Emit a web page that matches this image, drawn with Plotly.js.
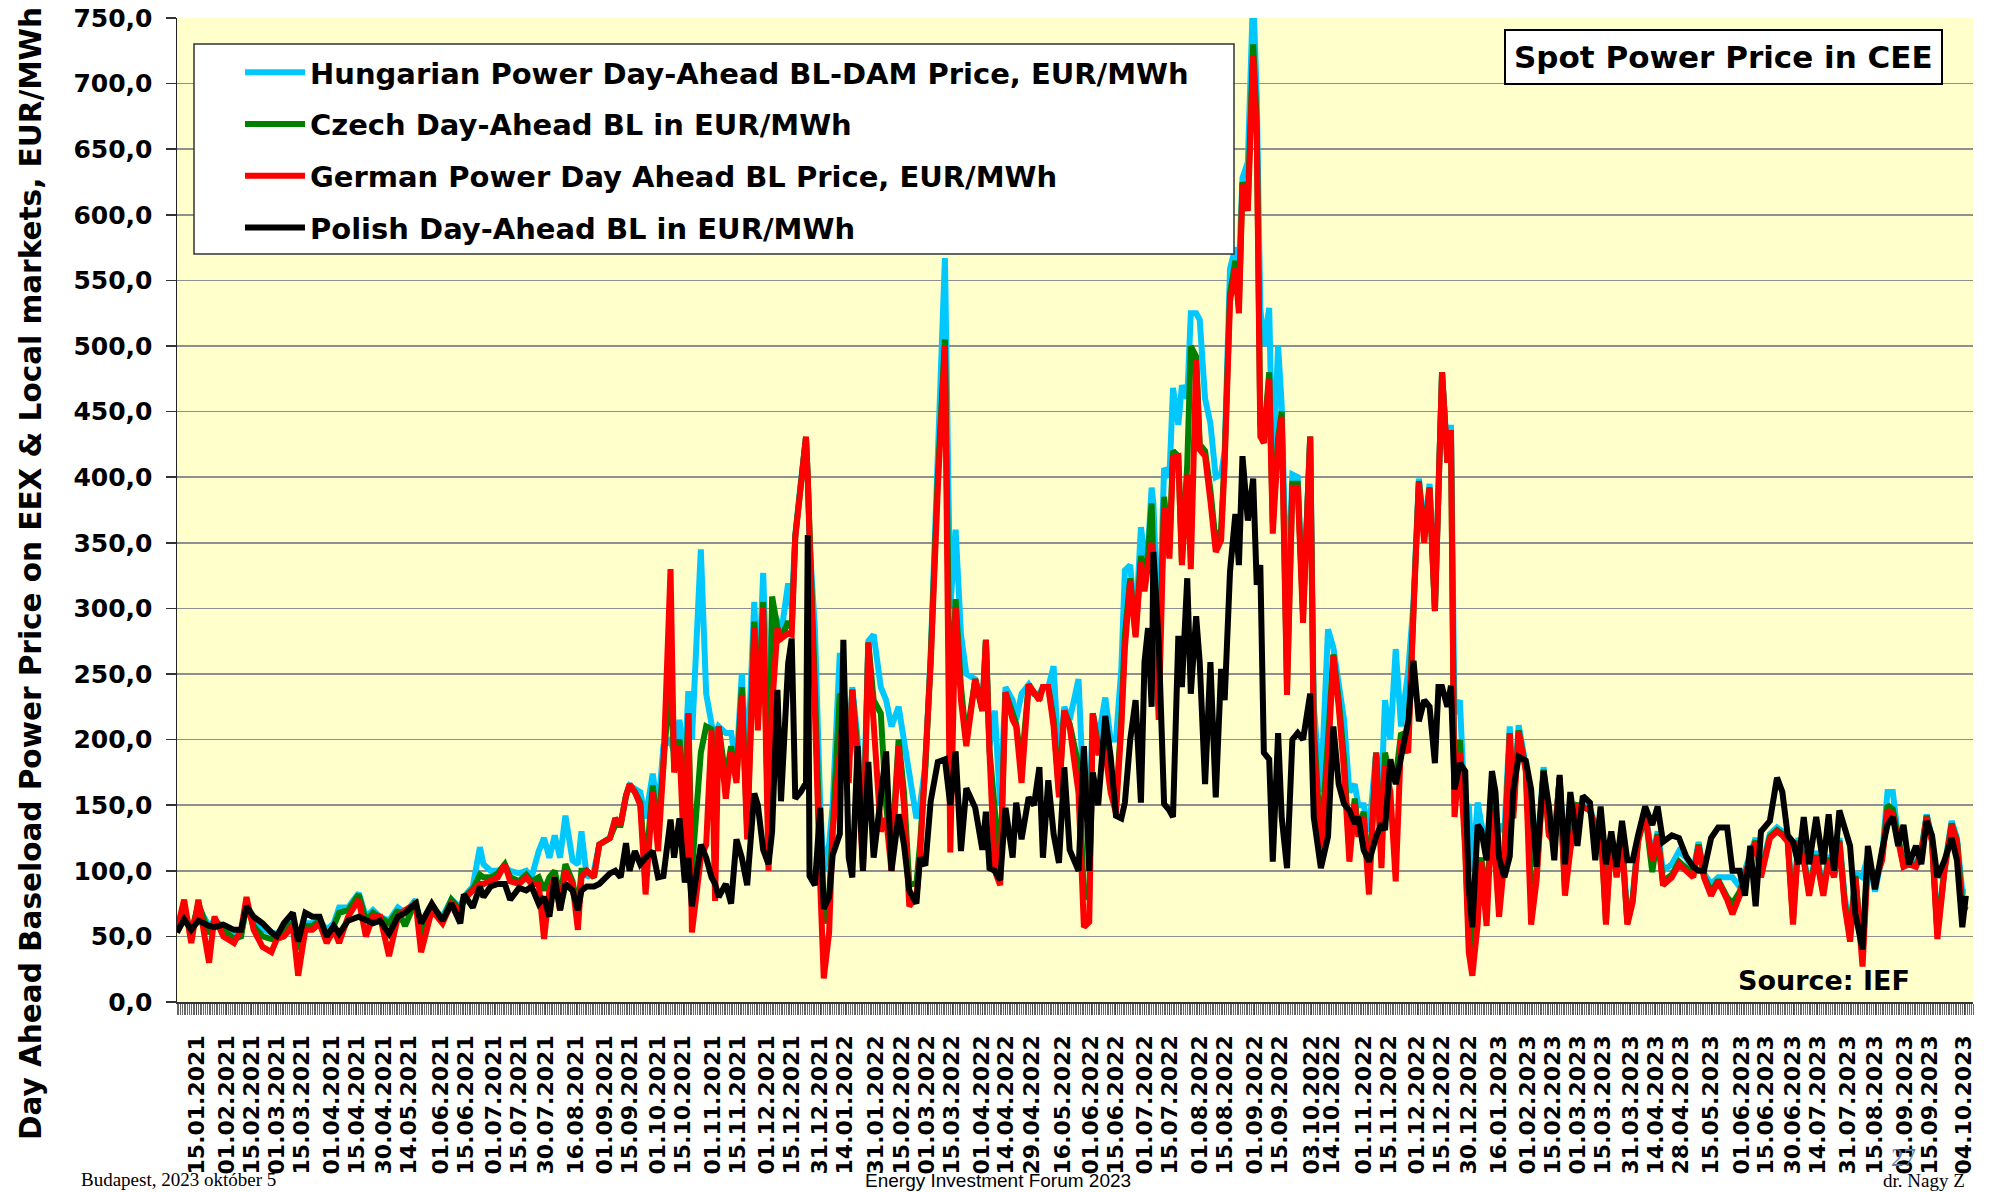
<!DOCTYPE html>
<html>
<head>
<meta charset="utf-8">
<script src="https://cdn.plot.ly/plotly-3.0.1.min.js"></script>
<style>
html,body{margin:0;padding:0;background:#fff;}
#chart{width:1989px;height:1192px;}
</style>
</head>
<body>
<div id="chart"></div>
<script>
// ---- data (approximate) ----
var dates = [
"2021-01-04","2021-01-08","2021-01-12","2021-01-16","2021-01-22","2021-01-25","2021-01-30","2021-02-05","2021-02-09","2021-02-12",
"2021-02-16","2021-02-21","2021-02-26","2021-03-01","2021-03-05","2021-03-10","2021-03-13","2021-03-17","2021-03-21","2021-03-25",
"2021-03-29","2021-04-02","2021-04-05","2021-04-10","2021-04-16","2021-04-20","2021-04-24","2021-04-28","2021-05-03","2021-05-08",
"2021-05-12","2021-05-18","2021-05-21","2021-05-27","2021-06-02","2021-06-07","2021-06-12","2021-06-14","2021-06-19","2021-06-23",
"2021-06-25","2021-06-29","2021-07-03","2021-07-07","2021-07-10","2021-07-15","2021-07-19","2021-07-22","2021-07-26","2021-07-29",
"2021-08-01","2021-08-04","2021-08-07","2021-08-10","2021-08-14","2021-08-17","2021-08-19","2021-08-22","2021-08-26","2021-08-29",
"2021-09-04","2021-09-07","2021-09-10","2021-09-13","2021-09-15","2021-09-18","2021-09-21","2021-09-24","2021-09-28","2021-10-01",
"2021-10-04","2021-10-08","2021-10-10","2021-10-13","2021-10-16","2021-10-18","2021-10-20","2021-10-25","2021-10-28","2021-10-31",
"2021-11-02","2021-11-04","2021-11-08","2021-11-11","2021-11-14","2021-11-17","2021-11-20","2021-11-24","2021-11-26","2021-11-29",
"2021-12-02","2021-12-04","2021-12-07","2021-12-09","2021-12-13","2021-12-15","2021-12-17","2021-12-20","2021-12-23","2021-12-24",
"2021-12-25","2021-12-28","2021-12-31","2022-01-02","2022-01-05","2022-01-07","2022-01-11","2022-01-13","2022-01-16","2022-01-18",
"2022-01-21","2022-01-24","2022-01-27","2022-01-30","2022-02-03","2022-02-06","2022-02-09","2022-02-13","2022-02-16","2022-02-19",
"2022-02-23","2022-02-25","2022-02-28","2022-03-03","2022-03-07","2022-03-11","2022-03-14","2022-03-17","2022-03-20","2022-03-23",
"2022-03-28","2022-04-01","2022-04-03","2022-04-05","2022-04-08","2022-04-11","2022-04-14","2022-04-18","2022-04-20","2022-04-23",
"2022-04-27","2022-04-30","2022-05-03","2022-05-05","2022-05-08","2022-05-11","2022-05-14","2022-05-17","2022-05-20","2022-05-25",
"2022-05-28","2022-05-31","2022-06-02","2022-06-05","2022-06-09","2022-06-12","2022-06-15","2022-06-18","2022-06-20","2022-06-23",
"2022-06-26","2022-06-29","2022-07-01","2022-07-03","2022-07-05","2022-07-06","2022-07-09","2022-07-12","2022-07-15","2022-07-17",
"2022-07-20","2022-07-22","2022-07-25","2022-07-27","2022-07-30","2022-08-01","2022-08-04","2022-08-07","2022-08-10","2022-08-13",
"2022-08-15","2022-08-18","2022-08-21","2022-08-23","2022-08-25","2022-08-28","2022-08-31","2022-09-02","2022-09-04","2022-09-06",
"2022-09-09","2022-09-11","2022-09-14","2022-09-16","2022-09-19","2022-09-22","2022-09-25","2022-09-28","2022-10-02","2022-10-04",
"2022-10-08","2022-10-12","2022-10-15","2022-10-18","2022-10-21","2022-10-24","2022-10-27","2022-10-29","2022-11-01","2022-11-04",
"2022-11-08","2022-11-11","2022-11-13","2022-11-16","2022-11-19","2022-11-22","2022-11-26","2022-11-29","2022-12-02","2022-12-05",
"2022-12-08","2022-12-11","2022-12-13","2022-12-15","2022-12-18","2022-12-20","2022-12-22","2022-12-25","2022-12-28","2022-12-30",
"2023-01-01","2023-01-04","2023-01-06","2023-01-09","2023-01-12","2023-01-14","2023-01-16","2023-01-19","2023-01-22","2023-01-24",
"2023-01-27","2023-01-31","2023-02-03","2023-02-06","2023-02-10","2023-02-13","2023-02-16","2023-02-19","2023-02-22","2023-02-25",
"2023-03-01","2023-03-04","2023-03-08","2023-03-11","2023-03-14","2023-03-17","2023-03-20","2023-03-23","2023-03-26","2023-03-29",
"2023-04-01","2023-04-04","2023-04-08","2023-04-12","2023-04-15","2023-04-18","2023-04-23","2023-04-27","2023-05-01","2023-05-05",
"2023-05-08","2023-05-11","2023-05-15","2023-05-19","2023-05-24","2023-05-27","2023-05-31","2023-06-03","2023-06-06","2023-06-09",
"2023-06-12","2023-06-17","2023-06-21","2023-06-24","2023-06-27","2023-06-30","2023-07-03","2023-07-06","2023-07-09","2023-07-13",
"2023-07-17","2023-07-20","2023-07-23","2023-07-26","2023-07-29","2023-08-01","2023-08-04","2023-08-08","2023-08-11","2023-08-15",
"2023-08-19","2023-08-22","2023-08-25","2023-08-28","2023-08-31","2023-09-03","2023-09-07","2023-09-10","2023-09-13","2023-09-16",
"2023-09-19","2023-09-23","2023-09-27","2023-09-30","2023-10-03","2023-10-05"
];

var hungarian = [
60,68,55,72,58,62,58,50,52,72,
60,55,53,52,55,62,45,60,60,62,
55,60,72,72,83,65,70,65,62,72,
68,78,55,72,65,78,72,80,88,118,
105,100,100,103,100,98,100,95,115,125,
110,127,110,142,108,105,130,95,100,120,
125,140,135,158,165,162,160,140,174,145,
195,200,190,215,180,237,200,345,235,212,
200,210,205,205,180,250,175,305,230,327,
200,300,290,280,319,300,356,395,430,400,
350,285,150,100,120,150,266,240,190,240,
200,130,275,280,240,230,210,225,200,171,
140,150,180,265,430,567,300,360,280,250,
246,225,276,195,222,150,240,230,215,235,
242,235,235,240,240,256,180,225,215,246,
150,140,220,200,232,200,200,254,329,333,
285,362,340,345,392,380,270,407,400,468,
440,470,460,525,525,520,460,441,400,402,
420,559,575,560,628,640,770,690,529,500,
529,400,500,455,300,402,400,300,431,225,
160,284,270,240,215,160,166,150,150,130,
190,160,230,200,269,210,252,305,399,360,
395,300,400,480,415,440,220,230,140,151,
100,152,136,120,150,120,135,130,210,150,
211,180,140,110,179,135,125,171,100,125,
150,150,148,135,138,70,128,98,125,65,
80,125,145,110,130,100,105,115,110,100,
122,98,90,95,95,95,88,100,112,125,
100,128,133,130,125,70,125,112,85,115,
85,112,98,125,80,55,98,95,112,84,
112,160,160,125,106,108,106,116,143,125,
55,103,138,125,84,84
];

var czech = [
58,70,52,75,52,62,55,48,50,75,
58,50,48,50,55,60,40,58,58,62,
50,58,68,70,82,62,68,65,60,70,
58,77,50,72,62,78,70,80,86,97,
95,95,98,105,95,92,97,92,95,85,
95,100,80,105,92,70,100,100,95,120,
125,135,135,157,165,160,152,100,165,130,
188,250,180,200,150,220,100,190,210,208,
150,210,170,195,170,240,130,290,215,305,
120,309,285,277,290,285,355,392,430,400,
350,240,110,60,80,140,235,230,180,238,
190,110,274,230,220,150,110,200,160,90,
90,120,178,262,400,505,200,307,240,200,
246,222,276,192,150,100,236,220,212,180,
242,235,232,240,240,215,160,222,212,180,
80,80,220,195,200,165,150,215,280,323,
280,340,320,343,380,330,240,385,345,420,
416,335,410,500,492,425,420,390,350,360,
415,540,565,530,625,610,730,670,440,430,
480,365,430,450,240,395,395,295,431,210,
120,200,265,230,185,115,155,130,145,90,
190,110,190,170,170,205,200,300,397,355,
392,298,395,480,411,436,150,200,120,50,
30,100,110,75,148,110,80,115,205,145,
207,178,90,95,177,128,122,171,85,118,
150,149,146,133,136,62,127,96,123,60,
78,123,144,99,128,92,97,107,102,97,
120,96,84,93,80,75,84,98,110,123,
97,126,131,128,123,62,123,110,83,112,
83,110,96,123,76,50,96,35,110,90,
110,150,147,123,104,106,104,114,142,123,
52,101,136,123,75,80
];

var german = [
55,78,45,78,30,65,50,45,55,80,
55,42,38,48,50,58,20,55,55,60,
45,55,45,65,78,50,65,65,35,65,
70,75,38,70,60,75,70,78,85,90,
90,92,95,105,92,90,95,90,90,48,
85,95,70,100,90,55,95,100,95,120,
125,140,135,157,166,160,150,82,160,115,
180,330,175,195,100,220,53,110,120,207,
77,210,155,191,167,234,124,285,207,301,
100,225,285,277,281,280,354,392,431,400,
350,236,90,18,53,130,195,220,167,238,
180,100,274,218,130,140,100,195,150,73,
80,110,175,258,392,500,114,301,230,195,
246,222,276,190,100,89,236,215,210,167,
242,235,230,240,240,210,156,222,210,159,
57,61,220,190,190,160,144,210,270,321,
278,335,313,333,350,318,215,377,338,415,
416,333,402,330,490,421,416,382,343,352,
411,534,559,525,623,603,721,662,431,426,
475,357,426,446,234,392,392,289,431,200,
111,185,264,225,176,107,151,126,141,82,
190,102,180,160,92,200,190,298,396,350,
392,298,392,480,411,436,141,190,115,38,
20,59,107,58,146,95,65,108,205,140,
206,176,59,92,176,127,122,171,81,116,
149,149,146,133,135,59,127,95,122,59,
76,122,143,108,127,89,95,105,100,95,
119,95,81,92,78,67,81,97,108,122,
95,125,130,127,122,59,122,108,81,111,
81,108,95,122,73,46,95,27,108,92,
108,146,143,122,103,105,103,113,141,122,
48,100,135,122,67,73
];

var polish = [
53,63,55,62,58,57,59,55,55,73,
65,60,53,50,60,68,46,68,65,65,
50,58,52,62,65,62,60,62,52,65,
68,75,60,75,62,75,60,82,72,88,
80,88,90,90,78,87,85,88,75,80,
65,95,70,90,85,70,85,88,88,90,
98,100,95,121,100,115,105,110,115,95,
96,139,110,140,91,110,73,120,110,95,
90,80,90,75,124,110,89,159,150,116,
105,130,238,153,258,277,155,160,167,356,
96,89,148,71,80,112,128,276,110,95,
195,100,183,110,153,191,100,143,120,85,
75,110,104,153,183,185,150,191,115,163,
148,116,145,102,100,93,148,110,152,124,
156,150,179,110,169,128,106,179,116,100,
195,100,175,150,218,187,142,140,152,200,
230,152,259,285,225,343,274,151,146,141,
279,240,323,235,294,259,166,259,156,254,
230,328,372,333,416,367,399,318,333,190,
185,107,205,141,102,200,205,200,235,141,
102,126,210,166,151,146,136,141,116,107,
126,136,131,185,166,185,214,260,214,230,
225,182,240,240,225,241,162,182,176,87,
57,135,131,108,176,160,110,95,111,162,
187,184,162,103,176,149,108,173,105,160,
119,157,152,108,149,105,130,103,138,108,
108,127,149,135,149,122,127,125,111,103,
100,100,125,133,133,100,100,81,119,73,
130,138,171,160,127,122,105,141,105,141,
105,143,100,146,133,119,67,40,119,86,
116,135,141,119,135,105,119,105,138,127,
95,108,125,108,57,81
];

var seriesNames = [
"Hungarian Power Day-Ahead BL-DAM Price, EUR/MWh",
"Czech Day-Ahead BL in EUR/MWh",
"German Power Day Ahead BL Price, EUR/MWh",
"Polish Day-Ahead BL in EUR/MWh"
];
var seriesColors = ["#00C8FF", "#008000", "#FF0000", "#000000"];

var tickLabels = [
"15.01.2021","01.02.2021","15.02.2021","01.03.2021","15.03.2021","01.04.2021","15.04.2021","30.04.2021","14.05.2021","01.06.2021",
"15.06.2021","01.07.2021","15.07.2021","30.07.2021","16.08.2021","01.09.2021","15.09.2021","01.10.2021","15.10.2021","01.11.2021",
"15.11.2021","01.12.2021","15.12.2021","31.12.2021","14.01.2022","31.01.2022","15.02.2022","01.03.2022","15.03.2022","01.04.2022",
"14.04.2022","29.04.2022","16.05.2022","01.06.2022","15.06.2022","01.07.2022","15.07.2022","01.08.2022","15.08.2022","01.09.2022",
"15.09.2022","03.10.2022","14.10.2022","01.11.2022","15.11.2022","01.12.2022","15.12.2022","30.12.2022","16.01.2023","01.02.2023",
"15.02.2023","01.03.2023","15.03.2023","31.03.2023","14.04.2023","28.04.2023","15.05.2023","01.06.2023","15.06.2023","30.06.2023",
"14.07.2023","31.07.2023","15.08.2023","01.09.2023","15.09.2023","04.10.2023"
];
var tickDates = tickLabels.map(function(s){ var p = s.split("."); return p[2] + "-" + p[1] + "-" + p[0]; });

// ---- figure ----
var W = 1989, H = 1192, ML = 177, MR = 16, MT = 18, MB = 190;
var PW = W - ML - MR, PH = H - MT - MB;
function px(x){ return (x - ML) / PW; }
function py(y){ return (MT + PH - y) / PH; }

var allSeries = [hungarian, czech, german, polish];
var traces = allSeries.map(function(vals, i){
  return {
    type: "scatter", mode: "lines",
    x: dates, y: vals,
    name: seriesNames[i],
    legendgroup: "g" + i,
    line: {color: seriesColors[i], width: 6},
    hoverinfo: "x+y+name"
  };
});

var bold = function(size, fam){ return {family: fam || "DejaVu Sans", size: size, color: "#000", weight: "bold"}; };

var layout = {
  width: W, height: H,
  margin: {l: ML, r: MR, t: MT, b: MB},
  paper_bgcolor: "#FFFFFF",
  plot_bgcolor: "#FFFFCC",
  separators: ", ",
  showlegend: true,
  legend: {
    x: px(240), y: py(47), xanchor: "left", yanchor: "top",
    bgcolor: "rgba(0,0,0,0)", borderwidth: 0,
    font: bold(29),
    traceorder: "grouped", tracegroupgap: 11,
    itemwidth: 60
  },
  shapes: [
    {type: "rect", xref: "paper", yref: "paper", layer: "above",
     x0: px(194), x1: px(1234), y0: py(254), y1: py(44),
     fillcolor: "#FFFFFF", line: {color: "#333333", width: 1.5}}
  ],
  xaxis: {
    type: "date",
    range: ["2021-01-04", "2023-10-09"],
    tickmode: "array", tickvals: tickDates, ticktext: tickLabels,
    tickangle: -90,
    tickfont: bold(22),
    ticks: "outside", ticklen: 11, tickcolor: "#444", tickwidth: 1,
    ticklabelstandoff: 12,
    minor: {ticks: "outside", dtick: 86400000, tick0: "2021-01-04", ticklen: 11, tickcolor: "#666", tickwidth: 1, showgrid: false},
    showgrid: false, zeroline: false,
    showline: true, linecolor: "#333", linewidth: 1.5
  },
  yaxis: {
    range: [0, 750], dtick: 50, tick0: 0,
    tickformat: ".1f",
    tickfont: bold(25),
    ticks: "outside", ticklen: 10, tickcolor: "#333", tickwidth: 1.5,
    ticklabelstandoff: 8,
    showgrid: true, gridcolor: "#8F8F8F", gridwidth: 1.5,
    zeroline: false,
    showline: true, linecolor: "#222", linewidth: 1.5
  },
  annotations: [
    {xref: "paper", yref: "paper", x: px(31), y: py(574), xanchor: "center", yanchor: "middle",
     text: "Day Ahead Baseload Power Price on EEX &amp; Local markets, EUR/MWh", textangle: -90,
     showarrow: false, font: bold(29.5)},
    {xref: "paper", yref: "paper", x: px(1723), y: py(57), xanchor: "center", yanchor: "middle",
     text: "Spot Power Price in CEE", showarrow: false, font: bold(31),
     bgcolor: "#FFFFFF", bordercolor: "#000000", borderwidth: 2, borderpad: 8},
    {xref: "paper", yref: "paper", x: px(1824), y: py(980), xanchor: "center", yanchor: "middle",
     text: "Source: IEF", showarrow: false, font: bold(27)},
    {xref: "paper", yref: "paper", x: px(79), y: py(1179), xanchor: "left", yanchor: "middle",
     text: "Budapest, 2023 október 5", showarrow: false,
     font: {family: "Liberation Serif", size: 19, color: "#000"}},
    {xref: "paper", yref: "paper", x: px(998), y: py(1180), xanchor: "center", yanchor: "middle",
     text: "Energy Investment Forum 2023", showarrow: false,
     font: {family: "Liberation Sans", size: 19, color: "#000"}},
    {xref: "paper", yref: "paper", x: px(1967), y: py(1180), xanchor: "right", yanchor: "middle",
     text: "dr. Nagy Z", showarrow: false,
     font: {family: "Liberation Serif", size: 19, color: "#000"}},
    {xref: "paper", yref: "paper", x: px(1903), y: py(1157), xanchor: "center", yanchor: "middle",
     text: "27", showarrow: false,
     font: {family: "Liberation Serif", size: 25, color: "#5B7FA6"}}
  ]
};

Plotly.newPlot("chart", traces, layout, {displayModeBar: false, staticPlot: true});
</script>
</body>
</html>
